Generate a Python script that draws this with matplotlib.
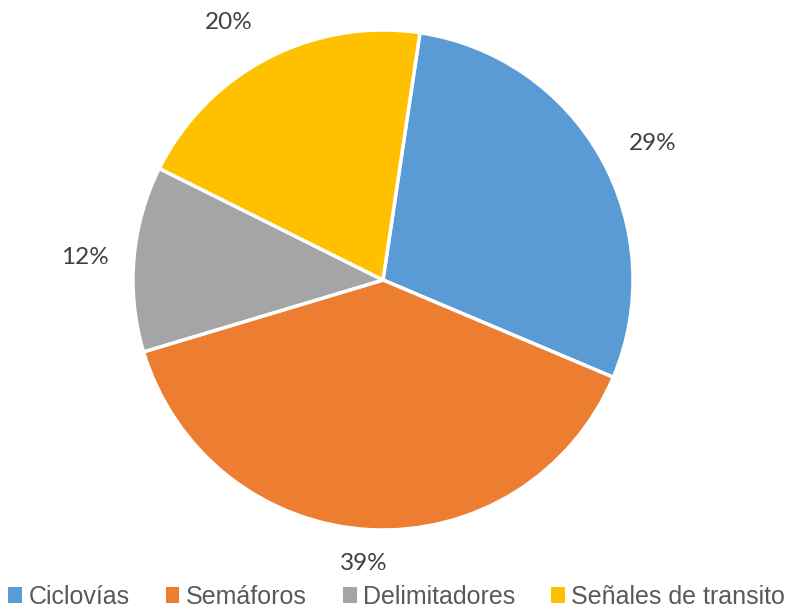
import matplotlib
matplotlib.use("Agg")
import numpy as np
import matplotlib.pyplot as plt
from matplotlib.patches import Patch

categories = ["Ciclovías", "Semáforos", "Delimitadores", "Señales de transito"]
values = [29, 39, 12, 20]
colors = ["#5B9BD5", "#ED7D31", "#A5A5A5", "#FFC000"]

W, H = 795, 610
fig = plt.figure(figsize=(W / 100, H / 100), dpi=100)
ax = fig.add_axes([0, 0, 1, 1])

cx, cy, R = 383, -280, 250
wedges, texts = ax.pie(
    values, colors=colors, startangle=81.5, counterclock=False,
    center=(cx, cy), radius=R,
    wedgeprops=dict(edgecolor="white", linewidth=2.5),
    frame=True,
)
ax.set_xlim(0, W)
ax.set_ylim(-H, 0)
ax.set_aspect("equal")
ax.axis("off")

# percentage labels outside the slices (Excel-like placement tweaks)
label_dist = [1.21, 1.135, 1.195, 1.2]
label_turn = [-2.5, -0.7, 0.5, 3.5]   # degrees, small placement adjustments
total = sum(values)
for w, v, f, t in zip(wedges, values, label_dist, label_turn):
    ang = np.deg2rad((w.theta1 + w.theta2) / 2 + t)
    ax.text(cx + f * R * np.cos(ang), cy + f * R * np.sin(ang),
            f"{v / total * 100:.0f}%",
            ha="center", va="center", fontsize=17.5, color="#404040",
            family="Lato")

handles = [Patch(facecolor=c, edgecolor="none") for c in colors]
fig.legend(handles, categories, loc="lower center", bbox_to_anchor=(0.499, -0.035),
           ncol=4, frameon=False, handlelength=0.55, handleheight=0.55,
           handletextpad=0.25, columnspacing=1.45,
           prop=dict(family="Liberation Sans", size=18), labelcolor="#595959")

fig.savefig("out.png", dpi=100)
